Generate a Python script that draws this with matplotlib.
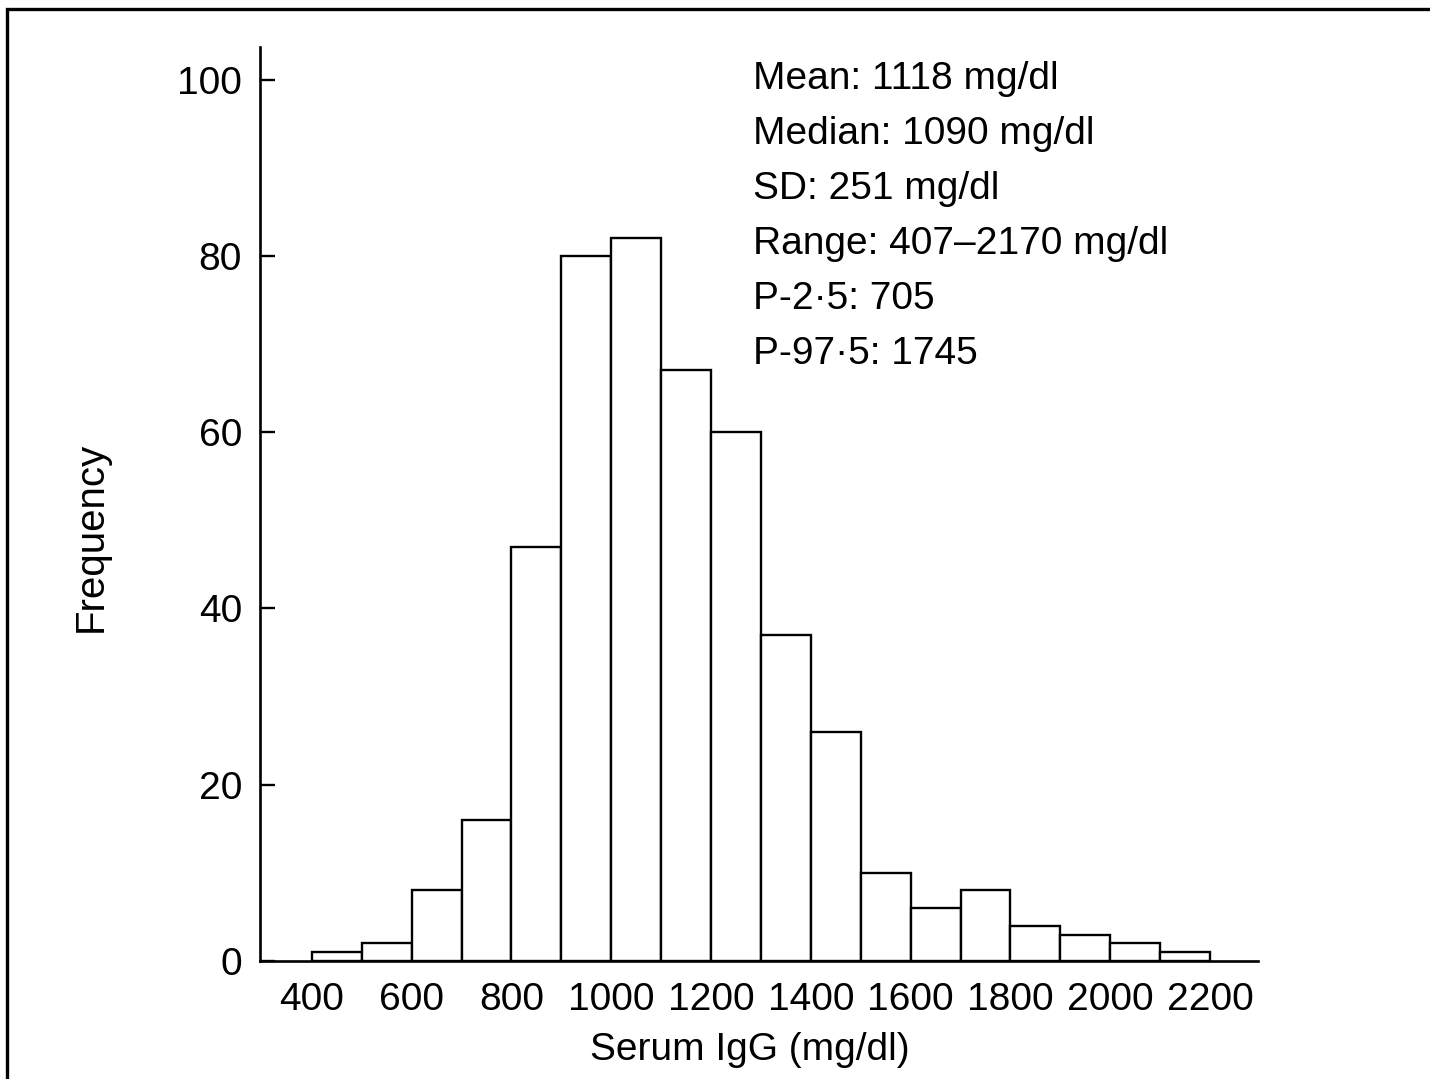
import matplotlib
matplotlib.use("Agg")
import matplotlib.pyplot as plt
from matplotlib.patches import Rectangle

plt.rcParams['font.family'] = ['Liberation Sans', 'DejaVu Sans']

bin_left = [400, 500, 600, 700, 800, 900, 1000, 1100, 1200, 1300, 1400,
            1500, 1600, 1700, 1800, 1900, 2000, 2100]
counts = [1, 2, 8, 16, 47, 80, 82, 67, 60, 37, 26, 10, 6, 8, 4, 3, 2, 1]
bin_width = 100
x_ticks = [400, 600, 800, 1000, 1200, 1400, 1600, 1800, 2000, 2200]
y_ticks = [0, 20, 40, 60, 80, 100]
stats_lines = ["Mean: 1118 mg/dl", "Median: 1090 mg/dl", "SD: 251 mg/dl",
               "Range: 407\u20132170 mg/dl", "P-2\u00b75: 705", "P-97\u00b75: 1745"]

fig = plt.figure(figsize=(14.3, 10.79), dpi=100)
ax = fig.add_axes([0.1818, 0.1094, 0.6979, 0.8471])

ax.bar(bin_left, counts, width=bin_width, align='edge', facecolor='white',
       edgecolor='black', linewidth=1.7)

ax.set_xlim(296, 2296)
ax.set_ylim(0, 103.7)
ax.set_xticks(x_ticks)
ax.set_yticks(y_ticks)

for s in ['top', 'right']:
    ax.spines[s].set_visible(False)
for s in ['left', 'bottom']:
    ax.spines[s].set_linewidth(1.9)

ax.tick_params(axis='y', direction='in', length=11, width=1.7, pad=13,
               labelsize=28)
ax.tick_params(axis='x', length=0, pad=15, labelsize=28)

ax.set_xlabel("Serum IgG (mg/dl)", fontsize=28, va='center')
ax.xaxis.set_label_coords(0.491, -0.0974)
ax.set_ylabel("Frequency", fontsize=29, va='center')
ax.yaxis.set_label_coords(-0.170, 0.464)

for i, line in enumerate(stats_lines):
    ax.text(0.494, 0.965 - i * 0.0602, line, transform=ax.transAxes,
            fontsize=28, ha='left', va='center')

fig.add_artist(Rectangle((7 / 1430, -0.1), 1.2, 1 - 9 / 1079 + 0.1,
                         transform=fig.transFigure, fill=False,
                         edgecolor='black', linewidth=2.4))

fig.savefig("out.png", dpi=100)
